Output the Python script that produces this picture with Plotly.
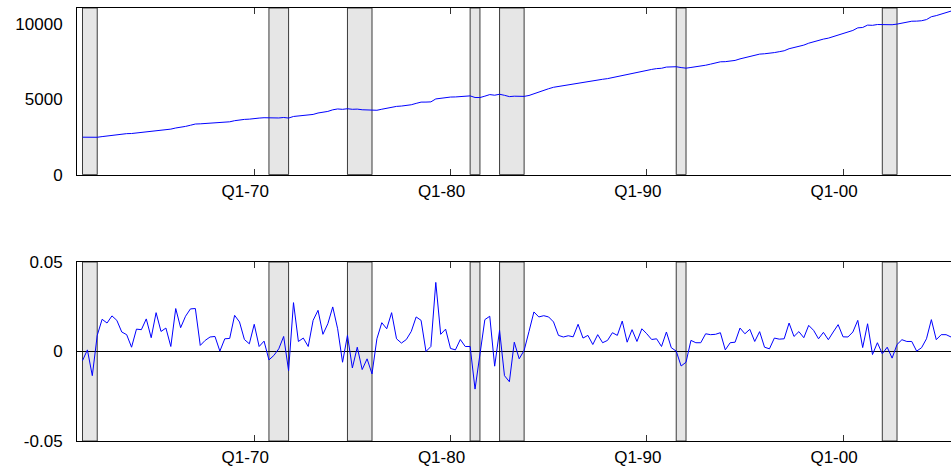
import plotly.graph_objects as go

# Quarterly observations (axis positions in decimal years, first at 1961.25)
n_obs = 178
start_year = 1961.25
x_vals = [start_year + 0.25 * i for i in range(n_obs)]

level = [
    2489, 2492, 2460, 2483, 2528, 2569, 2622, 2668, 2698, 2724,
    2732, 2767, 2802, 2855, 2877, 2941, 2975, 3015, 3024, 3099,
    3141, 3205, 3282, 3362, 3375, 3397, 3426, 3456, 3459, 3484,
    3510, 3583, 3644, 3669, 3686, 3744, 3756, 3780, 3763, 3757,
    3764, 3797, 3759, 3863, 3886, 3917, 3929, 3999, 4093, 4133,
    4199, 4305, 4362, 4337, 4378, 4339, 4351, 4309, 4294, 4242,
    4274, 4344, 4401, 4498, 4532, 4555, 4588, 4641, 4732, 4816,
    4818, 4833, 5026, 5076, 5142, 5152, 5159, 5196, 5212, 5229,
    5123, 5118, 5211, 5316, 5274, 5338, 5268, 5181, 5209, 5191,
    5196, 5256, 5376, 5482, 5594, 5705, 5801, 5855, 5905, 5959,
    6011, 6104, 6152, 6210, 6237, 6298, 6331, 6374, 6443, 6503,
    6616, 6653, 6737, 6777, 6865, 6937, 6986, 7038, 7061, 7141,
    7159, 7164, 7108, 7068, 7115, 7152, 7191, 7264, 7336, 7409,
    7490, 7500, 7539, 7582, 7684, 7763, 7863, 7910, 8001, 8023,
    8038, 8102, 8161, 8222, 8358, 8431, 8528, 8597, 8725, 8832,
    8899, 8997, 9060, 9162, 9304, 9384, 9463, 9571, 9743, 9768,
    9924, 9911, 9964, 9955, 9983, 9950, 9992, 10062, 10122, 10183,
    10189, 10215, 10292, 10481, 10555, 10657, 10762, 10854,
]

growth = [
    -0.0051, 0.0009, -0.0135, 0.0090, 0.0180, 0.0159, 0.0199, 0.0174, 0.0109, 0.0094,
    0.0024, 0.0125, 0.0122, 0.0182, 0.0077, 0.0217, 0.0112, 0.0131, 0.0028, 0.0240,
    0.0133, 0.0197, 0.0238, 0.0240, 0.0034, 0.0062, 0.0081, 0.0084, 0.0002, 0.0071,
    0.0073, 0.0202, 0.0165, 0.0067, 0.0043, 0.0152, 0.0028, 0.0058, -0.0047, -0.0022,
    0.0015, 0.0084, -0.0107, 0.0273, 0.0056, 0.0075, 0.0028, 0.0174, 0.0230, 0.0096,
    0.0155, 0.0249, 0.0127, -0.0060, 0.0090, -0.0092, 0.0024, -0.0101, -0.0041, -0.0125,
    0.0071, 0.0161, 0.0127, 0.0217, 0.0071, 0.0047, 0.0067, 0.0112, 0.0193, 0.0174,
    0.0000, 0.0028, 0.0386, 0.0096, 0.0125, 0.0017, 0.0009, 0.0067, 0.0028, 0.0028,
    -0.0210, -0.0013, 0.0178, 0.0197, -0.0082, 0.0118, -0.0135, -0.0169, 0.0052, -0.0041,
    0.0006, 0.0112, 0.0221, 0.0193, 0.0200, 0.0193, 0.0165, 0.0090, 0.0081, 0.0088,
    0.0082, 0.0152, 0.0075, 0.0090, 0.0039, 0.0094, 0.0049, 0.0062, 0.0105, 0.0090,
    0.0170, 0.0052, 0.0122, 0.0056, 0.0127, 0.0099, 0.0067, 0.0071, 0.0028, 0.0109,
    0.0021, 0.0002, -0.0081, -0.0060, 0.0062, 0.0049, 0.0049, 0.0099, 0.0094, 0.0096,
    0.0105, 0.0009, 0.0049, 0.0052, 0.0131, 0.0099, 0.0124, 0.0056, 0.0111, 0.0024,
    0.0015, 0.0075, 0.0069, 0.0071, 0.0159, 0.0084, 0.0111, 0.0077, 0.0146, 0.0118,
    0.0071, 0.0107, 0.0066, 0.0109, 0.0150, 0.0082, 0.0081, 0.0109, 0.0174, 0.0022,
    0.0155, -0.0017, 0.0049, -0.0013, 0.0024, -0.0037, 0.0039, 0.0066, 0.0056, 0.0056,
    0.0002, 0.0021, 0.0071, 0.0178, 0.0066, 0.0094, 0.0094, 0.0081,
]

# Recession bands (axis positions)
recessions = [
    (1961.25, 1962.0), (1970.75, 1971.75), (1974.75, 1976.0),
    (1981.0, 1981.5), (1982.5, 1983.75), (1991.5, 1992.0), (2002.0, 2002.75),
]

x_tickvals = [1970, 1980, 1990, 2000]
x_ticktext = ["Q1-70", "Q1-80", "Q1-90", "Q1-00"]
top_tickvals = [0, 5000, 10000]
top_ticktext = ["0", "5000", "10000"]
bot_tickvals = [-0.05, 0, 0.05]
bot_ticktext = ["-0.05", "0", "0.05"]

FONT = dict(family="Liberation Sans, Arial, sans-serif", size=17, color="black")

fig = go.Figure()
fig.add_trace(go.Scatter(x=x_vals, y=level, mode="lines",
                         line=dict(color="#0000ff", width=1), xaxis="x", yaxis="y",
                         showlegend=False))
fig.add_trace(go.Scatter(x=x_vals, y=growth, mode="lines",
                         line=dict(color="#0000ff", width=1), xaxis="x2", yaxis="y2",
                         showlegend=False))

shapes = []
for (a, b) in recessions:
    for xr, yr in (("x", "y domain"), ("x2", "y2 domain")):
        shapes.append(dict(type="rect", xref=xr, yref=yr, x0=a, x1=b, y0=0, y1=1,
                           fillcolor="#e6e6e6", line=dict(color="#3a3a3a", width=1),
                           layer="below"))

xaxis_common = dict(
    range=[1960.97, 2005.5], tickmode="array", tickvals=x_tickvals, ticktext=x_ticktext,
    ticks="inside", ticklen=6, tickcolor="#333333", tickwidth=1,
    showline=True, linecolor="black", linewidth=1, mirror="ticks",
    showgrid=False, zeroline=False, tickfont=FONT, automargin=False,
    ticklabelshift=-9, ticklabelstandoff=1,
)

fig.update_layout(
    width=951, height=468,
    margin=dict(l=77, r=0, t=8, b=27, autoexpand=False),
    paper_bgcolor="white", plot_bgcolor="white",
    shapes=shapes,
    xaxis=dict(domain=[0, 1], anchor="y", **xaxis_common),
    xaxis2=dict(domain=[0, 1], anchor="y2", **xaxis_common),
    yaxis=dict(domain=[0.615, 1], anchor="x", range=[0, 11060], automargin=False,
               tickmode="array", tickvals=top_tickvals, ticktext=top_ticktext,
               ticks="", showline=True, linecolor="black", linewidth=1, mirror=True,
               showgrid=False, zeroline=False, tickfont=FONT, ticklabelstandoff=10),
    yaxis2=dict(domain=[0, 0.4134], anchor="x2", range=[-0.05, 0.05], automargin=False,
                tickmode="array", tickvals=bot_tickvals, ticktext=bot_ticktext,
                ticks="", showline=True, linecolor="black", linewidth=1, mirror=True,
                showgrid=False, zeroline=True, zerolinecolor="black", zerolinewidth=1,
                tickfont=FONT, ticklabelstandoff=10),
)

fig.write_html("out.html",
               config={"displayModeBar": False},
               post_script="document.body.style.margin='0';document.body.style.overflow='hidden';")
